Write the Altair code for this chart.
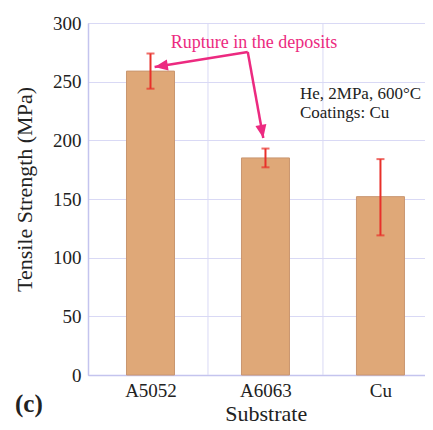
import json, math
import altair as alt
import pandas as pd

# ---- data ----
substrates = ["A5052", "A6063", "Cu"]
strength = [259, 185, 152]
err_low = [244, 177, 119]
err_high = [274, 193, 184]

# annotation anchors (data units: x in category units, y in MPa)
arrow_start = (1.346, 275.3)
arrow_tips = [(0.536, 262.5), (1.481, 202.0)]
note_text = "Rupture in the deposits"
note_pos = (1.40, 279.0)
cond_lines = ["He, 2MPa, 600°C", "Coatings: Cu"]
cond_pos = [(1.80, 235.2), (1.80, 219.0)]

UNIT = 118.5          # px per category
W, H = 337, 352
XMAX = W / UNIT
px_x = UNIT
px_y = H / 300.0

FONT = "Liberation Serif"
PINK = "#ec2a80"
RED = "#e8302a"
GRID = "#d9d9f5"
AXIS = "#c4c4ee"

df = pd.DataFrame({
    "substrate": substrates,
    "idx": list(range(len(substrates))),
    "pos": [i + 0.5 for i in range(len(substrates))],
    "strength": strength,
    "lo": err_low,
    "hi": err_high,
})

xscale = alt.Scale(domain=[0, XMAX], nice=False, zero=False)
yscale = alt.Scale(domain=[0, 300], nice=False)

label_expr = json.dumps(substrates) + "[floor(datum.value)]"

base = alt.Chart(df)

vgrid = base.transform_filter("datum.idx > 0").mark_rule(color=GRID, strokeWidth=1).encode(
    x=alt.X("idx:Q", scale=xscale),
    y=alt.value(0), y2=alt.value(H),
)

bars = base.mark_bar(size=48, color="#dfa878", stroke="#c99670", strokeWidth=1).encode(
    x=alt.X("pos:Q", scale=xscale,
            axis=alt.Axis(values=[i + 0.5 for i in range(len(substrates))],
                          labelExpr=label_expr, grid=False, ticks=False, tickSize=0,
                          domainColor=AXIS, domainWidth=1.5,
                          labelFont=FONT, labelFontSize=19, labelColor="#222",
                          labelBaseline="alphabetic", labelPadding=21,
                          title="Substrate", titleFont=FONT,
                          titleFontSize=22, titleFontWeight="normal", titleColor="#222",
                          titleBaseline="alphabetic", titleY=45, titleX=1.5 * UNIT)),
    y=alt.Y("strength:Q", scale=yscale,
            axis=alt.Axis(values=list(range(0, 301, 50)), grid=True, gridColor=GRID,
                          ticks=False, tickSize=0, domainColor=AXIS, domainWidth=1.5,
                          labelFont=FONT, labelFontSize=19, labelColor="#222",
                          labelPadding=7, title="Tensile Strength (MPa)", titleFont=FONT,
                          titleFontSize=22, titleFontWeight="normal", titleColor="#222",
                          titleBaseline="alphabetic", titleX=-57, titleY=166)),
)

err = base.mark_rule(color=RED, strokeWidth=2).encode(
    x=alt.X("pos:Q", scale=xscale), y=alt.Y("lo:Q", scale=yscale), y2="hi:Q")
cap_lo = base.mark_tick(color=RED, thickness=2, size=8, orient="horizontal").encode(
    x=alt.X("pos:Q", scale=xscale), y=alt.Y("lo:Q", scale=yscale))
cap_hi = base.mark_tick(color=RED, thickness=2, size=8, orient="horizontal").encode(
    x=alt.X("pos:Q", scale=xscale), y=alt.Y("hi:Q", scale=yscale))

# arrows
seg = pd.DataFrame({
    "x": [arrow_start[0]] * len(arrow_tips),
    "y": [arrow_start[1]] * len(arrow_tips),
    "x2": [t[0] for t in arrow_tips],
    "y2": [t[1] for t in arrow_tips],
})
angles = []
for t in arrow_tips:
    dx = (t[0] - arrow_start[0]) * px_x
    dy = -(t[1] - arrow_start[1]) * px_y
    a = math.degrees(math.atan2(dx, -dy)) % 360
    angles.append(a)
heads = pd.DataFrame({"x": [t[0] for t in arrow_tips], "y": [t[1] for t in arrow_tips], "angle": angles})

lines = alt.Chart(seg).mark_rule(color=PINK, strokeWidth=2.5).encode(
    x=alt.X("x:Q", scale=xscale), y=alt.Y("y:Q", scale=yscale), x2="x2:Q", y2="y2:Q")
arrowheads = alt.Chart(heads).mark_point(
    shape="M0,0 L0.42,1 L-0.42,1 Z", filled=True, color=PINK, opacity=1, size=700, strokeWidth=0
).encode(x=alt.X("x:Q", scale=xscale), y=alt.Y("y:Q", scale=yscale),
         angle=alt.Angle("angle:Q", scale=None))

note = alt.Chart(pd.DataFrame({"x": [note_pos[0]], "y": [note_pos[1]], "t": [note_text]})).mark_text(
    font=FONT, fontSize=18, color=PINK, align="center", baseline="alphabetic").encode(
    x=alt.X("x:Q", scale=xscale), y=alt.Y("y:Q", scale=yscale), text="t:N")

cond = alt.Chart(pd.DataFrame({"x": [p[0] for p in cond_pos], "y": [p[1] for p in cond_pos], "t": cond_lines})).mark_text(
    font=FONT, fontSize=17, color="#222", align="left", baseline="alphabetic").encode(
    x=alt.X("x:Q", scale=xscale), y=alt.Y("y:Q", scale=yscale), text="t:N")

panel = alt.Chart(pd.DataFrame({"t": ["(c)"]})).mark_text(
    font=FONT, fontSize=25, fontWeight="bold", color="#222", align="left", baseline="alphabetic").encode(
    x=alt.value(-73), y=alt.value(389), text="t:N")

chart = alt.layer(vgrid, bars, err, cap_lo, cap_hi, lines, arrowheads, note, cond, panel).properties(
    width=W, height=H,
    autosize=alt.AutoSizeParams(type="none"),
    padding={"left": 80, "top": 15, "right": 0, "bottom": 46},
).configure_view(stroke=None).configure(background="white")

chart.save("out.html", embed_options={"renderer": "svg", "actions": False})
